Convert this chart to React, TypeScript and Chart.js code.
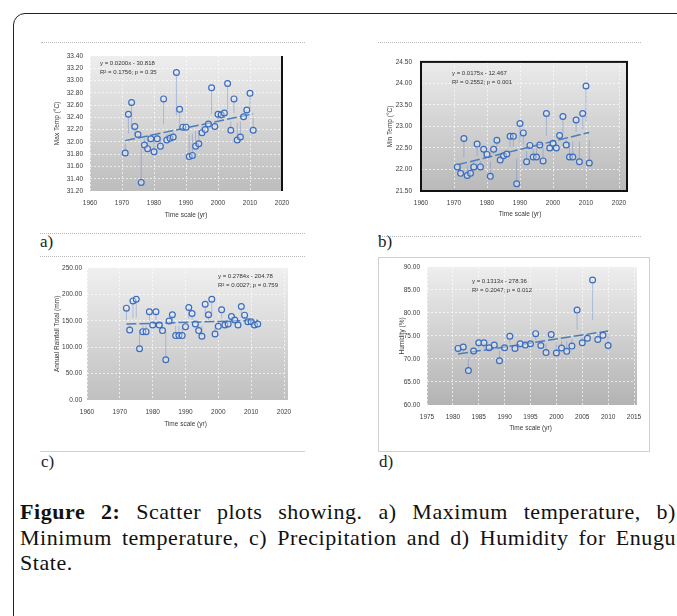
import React, { useEffect, useRef } from 'react';
import { Chart, registerables } from 'chart.js';
Chart.register(...registerables);

// ---------- data ----------
const tmaxYears = [1971, 1972, 1973, 1974, 1975, 1976, 1977, 1978, 1979, 1980, 1981, 1982, 1983, 1984, 1985, 1986, 1987, 1988, 1989, 1990, 1991, 1992, 1993, 1994, 1995, 1996, 1997, 1998, 1999, 2000, 2001, 2002, 2003, 2004, 2005, 2006, 2007, 2008, 2009, 2010, 2011];
const tmaxValues = [31.82, 32.45, 32.64, 32.25, 32.12, 31.34, 31.95, 31.89, 32.05, 31.84, 32.05, 31.93, 32.70, 32.03, 32.06, 32.08, 33.13, 32.53, 32.24, 32.24, 31.76, 31.78, 31.93, 31.97, 32.15, 32.20, 32.29, 32.88, 32.25, 32.45, 32.44, 32.47, 32.95, 32.19, 32.70, 32.03, 32.08, 32.41, 32.52, 32.79, 32.19];

const tminYears = [1971, 1972, 1973, 1974, 1975, 1976, 1977, 1978, 1979, 1980, 1981, 1982, 1983, 1984, 1985, 1986, 1987, 1988, 1989, 1990, 1991, 1992, 1993, 1994, 1995, 1996, 1997, 1998, 1999, 2000, 2001, 2002, 2003, 2004, 2005, 2006, 2007, 2008, 2009, 2010, 2011];
const tminValues = [22.06, 21.91, 22.72, 21.86, 21.91, 22.06, 22.59, 22.06, 22.47, 22.35, 21.84, 22.47, 22.68, 22.22, 22.32, 22.36, 22.77, 22.77, 21.67, 23.07, 22.85, 22.18, 22.56, 22.29, 22.29, 22.57, 22.20, 23.30, 22.50, 22.61, 22.50, 22.79, 23.23, 22.57, 22.29, 22.29, 23.15, 22.18, 23.30, 23.94, 22.15];

const rainYears = [1972, 1973, 1974, 1975, 1976, 1977, 1978, 1979, 1980, 1981, 1982, 1983, 1984, 1985, 1986, 1987, 1988, 1989, 1990, 1991, 1992, 1993, 1994, 1995, 1996, 1997, 1998, 1999, 2000, 2001, 2002, 2003, 2004, 2005, 2006, 2007, 2008, 2009, 2010, 2011, 2012];
const rainValues = [173.8, 132.5, 187.5, 190.6, 96.9, 129.4, 129.4, 166.9, 141.9, 166.9, 141.9, 131.3, 76.3, 149.4, 161.3, 121.9, 121.9, 121.9, 138.8, 175.0, 163.8, 143.8, 131.3, 120.6, 181.3, 161.3, 190.6, 125.0, 139.4, 170.6, 141.9, 143.8, 158.1, 151.3, 141.9, 176.9, 160.6, 148.1, 148.1, 141.9, 143.8];

const humYears = [1981, 1982, 1983, 1984, 1985, 1986, 1987, 1988, 1989, 1990, 1991, 1992, 1993, 1994, 1995, 1996, 1997, 1998, 1999, 2000, 2001, 2002, 2003, 2004, 2005, 2006, 2007, 2008, 2009, 2010];
const humValues = [72.30, 72.59, 67.47, 71.73, 73.51, 73.51, 72.44, 73.01, 69.60, 72.44, 74.93, 72.30, 73.30, 73.01, 73.30, 75.50, 72.94, 71.38, 75.29, 71.31, 72.37, 71.66, 72.80, 80.62, 73.51, 74.51, 87.16, 74.22, 75.15, 72.94];

const eqA = ['y = 0.0200x - 30.818', 'R² = 0.1756; p = 0.35'];
const eqB = ['y = 0.0175x - 12.467', 'R² = 0.2552; p = 0.001'];
const eqC = ['y = 0.2784x - 204.78', 'R² = 0.0027; p = 0.759'];
const eqD = ['y = 0.1313x - 278.36', 'R² = 0.2047; p = 0.012'];

const captionBold = 'Figure 2:';
const captionLines = [
  ' Scatter plots showing. a) Maximum temperature, b)',
  'Minimum temperature, c) Precipitation and d) Humidity for Enugu',
  'State.',
];

// ---------- layout ----------
type Rect = { l: number; t: number; r: number; b: number };
interface Spec {
  plot: Rect;
  years: number[];
  values: number[];
  xMin: number; xMax: number; xStep: number;
  yMin: number; yMax: number; yStep: number;
  yTitle: string; xTitle: string;
  yTitleX: number; xTitleY: number; yTickPad: number;
  eq: string[]; eqX: number; eqY: number;
  frame: 'right' | 'box' | 'none';
  extR: number;
  bgTop: string; bgBottom: string;
}

const LPAD = 45, TPAD = 8, RPAD = 20, BPAD = 40;
const FONT = 'Liberation Sans';
const BLUE = '#3a6cc0';

function regression(xs: number[], ys: number[]) {
  const n = xs.length;
  let sx = 0, sy = 0, sxx = 0, sxy = 0;
  for (let i = 0; i < n; i++) { sx += xs[i]; sy += ys[i]; sxx += xs[i] * xs[i]; sxy += xs[i] * ys[i]; }
  const b = (n * sxy - sx * sy) / (n * sxx - sx * sx);
  const a = (sy - b * sx) / n;
  return { a, b };
}

function Panel({ s }: { s: Spec }) {
  const ref = useRef<HTMLCanvasElement>(null);
  const left = s.plot.l - LPAD, top = s.plot.t - TPAD;
  const width = s.plot.r + RPAD - left, height = s.plot.b + BPAD - top;
  useEffect(() => {
    if (!ref.current) return;
    const { a, b } = regression(s.years, s.values);
    const x0 = s.years[0], x1 = s.years[s.years.length - 1];
    const lh = 6.5 * 1.2;
    const deco = {
      id: 'deco',
      beforeDraw(chart: any) {
        const { ctx, chartArea: ca } = chart;
        const g = ctx.createLinearGradient(0, ca.top, 0, ca.bottom);
        g.addColorStop(0, s.bgTop);
        g.addColorStop(1, s.bgBottom);
        ctx.save();
        ctx.fillStyle = g;
        ctx.fillRect(ca.left, ca.top, ca.right - ca.left + s.extR, ca.bottom - ca.top);
        ctx.restore();
      },
      beforeDatasetsDraw(chart: any) {
        const { ctx } = chart;
        const xs = chart.scales.x, ys = chart.scales.y;
        ctx.save();
        ctx.strokeStyle = 'rgba(90,130,205,0.5)';
        ctx.lineWidth = 0.8;
        for (let i = 0; i < s.years.length; i++) {
          const px = xs.getPixelForValue(s.years[i]);
          const py = ys.getPixelForValue(s.values[i]);
          const pt = ys.getPixelForValue(a + b * s.years[i]);
          ctx.beginPath();
          ctx.moveTo(px, py);
          ctx.lineTo(px, py + 0.75 * (pt - py));
          ctx.stroke();
        }
        ctx.restore();
      },
      afterDraw(chart: any) {
        const { ctx, chartArea: ca } = chart;
        ctx.save();
        ctx.strokeStyle = '#111';
        ctx.lineWidth = 2;
        if (s.frame === 'right') {
          ctx.beginPath();
          ctx.moveTo(ca.right + s.extR, ca.top);
          ctx.lineTo(ca.right + s.extR, ca.bottom);
          ctx.stroke();
        } else if (s.frame === 'box') {
          ctx.strokeRect(ca.left, ca.top, ca.right - ca.left + s.extR, ca.bottom - ca.top);
        }
        ctx.fillStyle = '#333';
        ctx.font = `6px "${FONT}"`;
        ctx.textBaseline = 'middle';
        ctx.textAlign = 'left';
        s.eq.forEach((t, i) => ctx.fillText(t, s.eqX - left, s.eqY - top + i * 9.5));
        ctx.restore();
      },
    };
    const chart = new Chart(ref.current, {
      type: 'scatter',
      data: {
        datasets: [
          {
            data: s.years.map((y, i) => ({ x: y, y: s.values[i] })),
            borderColor: BLUE,
            backgroundColor: 'rgba(255,255,255,0.35)',
            pointRadius: 2.9,
            pointBorderWidth: 1.2,
            pointStyle: 'circle',
          },
          {
            data: [{ x: x0, y: a + b * x0 }, { x: x1, y: a + b * x1 }],
            showLine: true,
            borderColor: '#4a7ebb',
            borderWidth: 1.5,
            borderDash: [10, 3],
            pointRadius: 0,
          } as any,
        ],
      },
      options: {
        animation: false,
        responsive: false,
        maintainAspectRatio: false,
        layout: { padding: { left: 0, top: TPAD, right: RPAD, bottom: 0 } },
        plugins: { legend: { display: false }, tooltip: { enabled: false } },
        scales: {
          x: {
            type: 'linear',
            min: s.xMin, max: s.xMax,
            afterFit: (sc: any) => { sc.height = BPAD; },
            ticks: { stepSize: s.xStep, autoSkip: false, maxRotation: 0, padding: 8, color: '#3a3a3a', font: { family: FONT, size: 6.5 }, callback: (v: any) => String(v) },
            grid: { color: 'rgba(255,255,255,0.85)', drawTicks: false, lineWidth: 0.8 },
            border: { display: false, dash: [2, 2] },
            title: { display: true, text: s.xTitle, color: '#3a3a3a', font: { family: FONT, size: 6.5, lineHeight: 1.2 }, padding: { top: 0, bottom: (top + height) - s.xTitleY - lh / 2 } },
          },
          y: {
            type: 'linear',
            min: s.yMin, max: s.yMax,
            afterFit: (sc: any) => { sc.width = LPAD; },
            ticks: { stepSize: s.yStep, autoSkip: false, padding: s.yTickPad, color: '#3a3a3a', font: { family: FONT, size: 6.5 }, callback: (v: any) => Number(v).toFixed(2) },
            grid: { color: 'rgba(255,255,255,0.85)', drawTicks: false, lineWidth: 0.8 },
            border: { display: false, dash: [2, 2] },
            title: { display: true, text: s.yTitle, color: '#3a3a3a', font: { family: FONT, size: 6.5, lineHeight: 1.2 }, padding: { top: s.yTitleX - left - lh / 2, bottom: 0 } },
          },
        },
      },
      plugins: [deco],
    } as any);
    return () => chart.destroy();
  }, []);
  return (
    <canvas ref={ref} width={width} height={height}
      style={{ position: 'absolute', left, top, width, height }} />
  );
}

const specs: Spec[] = [
  {
    plot: { l: 90, t: 53, r: 282, b: 191 }, years: tmaxYears, values: tmaxValues,
    xMin: 1960, xMax: 2020, xStep: 10, yMin: 31.2, yMax: 33.4, yStep: 0.2,
    yTitle: 'Max Temp (°C)', xTitle: 'Time scale (yr)', yTitleX: 57, xTitleY: 215, yTickPad: 7,
    eq: eqA, eqX: 100, eqY: 63, frame: 'right', extR: 0, bgTop: '#eeeeee', bgBottom: '#bdbdbd',
  },
  {
    plot: { l: 421, t: 57, r: 619, b: 191 }, years: tminYears, values: tminValues,
    xMin: 1960, xMax: 2020, xStep: 10, yMin: 21.5, yMax: 24.5, yStep: 0.5,
    yTitle: 'Min Temp (°C)', xTitle: 'Time scale (yr)', yTitleX: 390, xTitleY: 214, yTickPad: 9,
    eq: eqB, eqX: 452, eqY: 73, frame: 'box', extR: 8, bgTop: '#ebebeb', bgBottom: '#b9b9b9',
  },
  {
    plot: { l: 87, t: 267, r: 284, b: 400 }, years: rainYears, values: rainValues,
    xMin: 1960, xMax: 2020, xStep: 10, yMin: 0, yMax: 250, yStep: 50,
    yTitle: 'Annual Rainfall Total (mm)', xTitle: 'Time scale (yr)', yTitleX: 57, xTitleY: 424, yTickPad: 5,
    eq: eqC, eqX: 218, eqY: 276, frame: 'none', extR: 4, bgTop: '#f0f0f0', bgBottom: '#c0c0c0',
  },
  {
    plot: { l: 427, t: 264, r: 634, b: 405 }, years: humYears, values: humValues,
    xMin: 1975, xMax: 2015, xStep: 5, yMin: 60, yMax: 90, yStep: 5,
    yTitle: 'Humidity (%)', xTitle: 'Time scale (yr)', yTitleX: 402, xTitleY: 428, yTickPad: 7,
    eq: eqD, eqX: 472, eqY: 281, frame: 'none', extR: 3, bgTop: '#eeeeee', bgBottom: '#b3b3b3',
  },
];

const dotted = (l: number, t: number, w: number): React.CSSProperties => ({
  position: 'absolute', left: l, top: t, width: w, height: 0, borderTop: '1px dotted #b8b8b8',
});
const labelStyle = (l: number, t: number): React.CSSProperties => ({
  position: 'absolute', left: l, top: t, fontFamily: '"Liberation Serif"', fontSize: 17, lineHeight: '18px', color: '#222',
});

export default function App() {
  return (
    <div style={{ position: 'fixed', left: 0, top: 0, width: 677, height: 616, overflow: 'hidden', background: '#fff' }}>
      <div style={{ position: 'absolute', left: 13, top: 13, width: 720, height: 720, border: '1.5px solid #222', borderTopLeftRadius: 12, boxSizing: 'border-box' }} />
      <div style={dotted(41, 42, 264)} />
      <div style={dotted(378, 42, 263)} />
      <div style={dotted(40, 233, 265)} />
      <div style={dotted(378, 236, 263)} />
      <div style={dotted(40, 256, 265)} />
      <div style={{ ...dotted(40, 451, 265), borderTop: '1px solid #cfcfcf' }} />
      <div style={{ position: 'absolute', left: 378, top: 257, width: 272, height: 195, border: '1px solid #d0d0d0', boxSizing: 'border-box' }} />
      <div style={labelStyle(40, 233)}>a)</div>
      <div style={labelStyle(378, 233)}>b)</div>
      <div style={labelStyle(41, 453)}>c)</div>
      <div style={labelStyle(379, 453)}>d)</div>
      {specs.map((s, i) => <Panel key={i} s={s} />)}
      <div style={{ position: 'absolute', left: 20, top: 499, width: 656, fontFamily: '"Liberation Serif"', fontSize: 22, lineHeight: '25.5px', letterSpacing: '0.55px', color: '#111' }}>
        <div style={{ textAlign: 'justify', textAlignLast: 'justify' }}><b>{captionBold}</b>{captionLines[0]}</div>
        <div style={{ textAlign: 'justify', textAlignLast: 'justify' }}>{captionLines[1]}</div>
        <div>{captionLines[2]}</div>
      </div>
    </div>
  );
}
